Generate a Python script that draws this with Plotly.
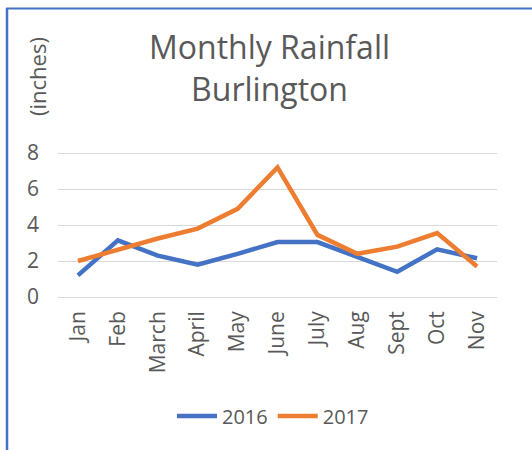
import plotly.graph_objects as go

months = ["Jan", "Feb", "March", "April", "May", "June", "July", "Aug", "Sept", "Oct", "Nov"]
rain_2016 = [1.2, 3.15, 2.3, 1.8, 2.4, 3.05, 3.05, 2.2, 1.4, 2.65, 2.15]
rain_2017 = [2.0, 2.65, 3.25, 3.8, 4.9, 7.2, 3.45, 2.4, 2.8, 3.55, 1.7]
y_ticks = [0, 2, 4, 6, 8]

W, H = 532, 450
ML, MR, MT, MB = 58, 35, 144, 144
PW, PH = W - ML - MR, H - MT - MB
TXT = "#595959"
FONT = "Open Sans"

def px_x(x):
    return (x - ML) / PW

def px_y(y):
    return (H - MB - y) / PH

fig = go.Figure()
fig.add_trace(go.Scatter(x=months, y=rain_2016, mode="lines", name="2016",
                         line=dict(color="#4472C4", width=4.5)))
fig.add_trace(go.Scatter(x=months, y=rain_2017, mode="lines", name="2017",
                         line=dict(color="#ED7D31", width=4.5)))

fig.update_layout(
    width=W, height=H,
    margin=dict(l=ML, r=MR, t=MT, b=MB, pad=0, autoexpand=False),
    paper_bgcolor="white", plot_bgcolor="white",
    font=dict(family=FONT, color=TXT),
    showlegend=True,
    legend=dict(orientation="h", xref="container", x=273 / W, xanchor="center",
                yref="container", y=1 - 416 / H, yanchor="middle",
                font=dict(size=20, color=TXT), itemwidth=40),
    xaxis=dict(type="category", range=[-0.5, len(months) - 0.5], tickangle=-90,
               showgrid=False, showline=False, ticks="", zeroline=False, automargin=False,
               tickfont=dict(size=21, color=TXT)),
    yaxis=dict(range=[-0.5, 8.5], tickvals=y_ticks, showgrid=True, automargin=False,
               gridcolor="#D9D9D9", gridwidth=1.3, zeroline=False, showline=False,
               ticks="", ticklabelstandoff=18, tickfont=dict(size=21, color=TXT)),
    annotations=[
        dict(text="Monthly Rainfall<br>Burlington", xref="paper", yref="paper",
             x=px_x(269), y=px_y(68), xanchor="center", yanchor="middle", showarrow=False,
             font=dict(size=32, color=TXT)),
        dict(text="(inches)", xref="paper", yref="paper", x=px_x(37), y=px_y(77),
             xanchor="center", yanchor="middle", textangle=-90, showarrow=False,
             font=dict(size=22, color=TXT)),
    ],
    shapes=[
        dict(type="line", xref="paper", yref="paper", x0=px_x(7), x1=px_x(7),
             y0=px_y(8), y1=px_y(H + 10), line=dict(color="#4472C4", width=2.5)),
        dict(type="line", xref="paper", yref="paper", x0=px_x(6), x1=px_x(W + 10),
             y0=px_y(8.5), y1=px_y(8.5), line=dict(color="#4472C4", width=2)),
    ],
)

fig.write_html("out.html", config={"displayModeBar": False},
               post_script="document.body.style.margin='0';")
